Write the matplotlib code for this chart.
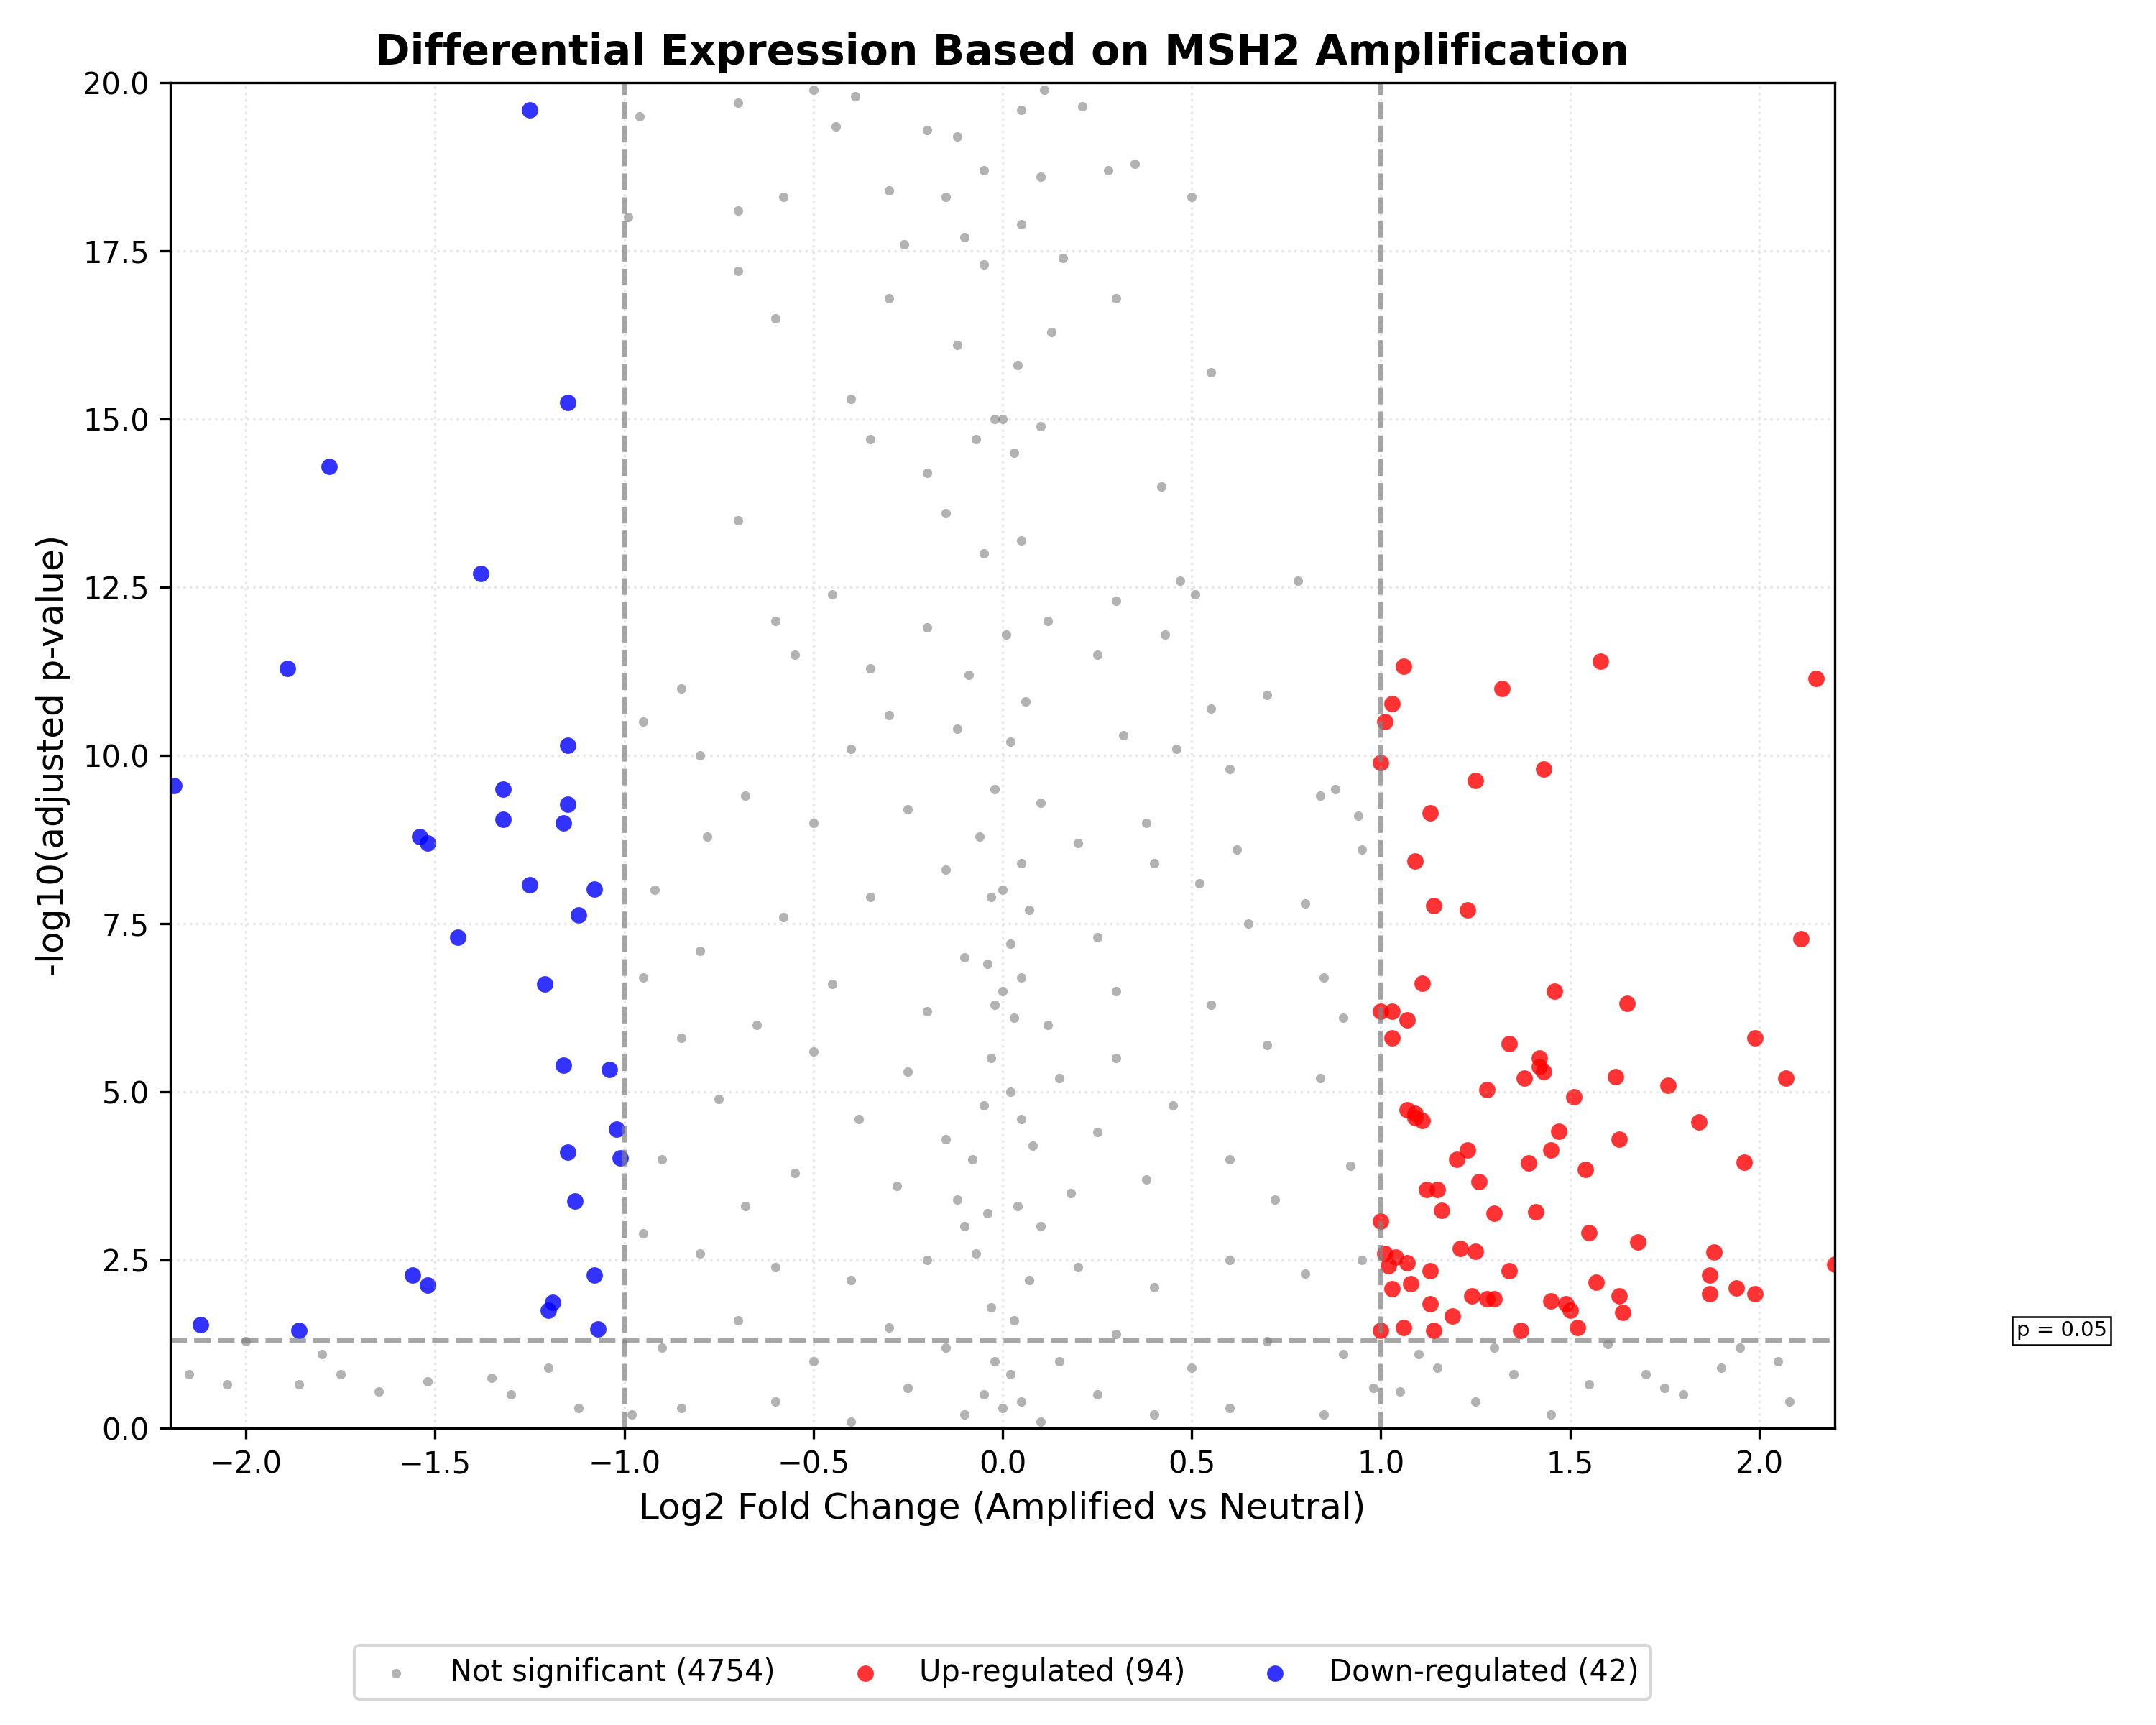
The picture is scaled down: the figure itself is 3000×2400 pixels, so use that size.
import numpy as np
import matplotlib.pyplot as plt

# values (log2FC, -log10 padj)
down_pts = [(-1.25, 19.6), (-1.15, 15.25), (-1.78, 14.3), (-1.38, 12.7), (-1.89, 11.3),
            (-2.19, 9.55), (-1.15, 10.15), (-1.32, 9.5), (-1.15, 9.28), (-1.32, 9.05),
            (-1.16, 9.0), (-1.54, 8.8), (-1.52, 8.7), (-1.25, 8.08), (-1.08, 8.02),
            (-1.12, 7.63), (-1.44, 7.3), (-1.21, 6.6), (-1.16, 5.4), (-1.04, 5.33),
            (-1.02, 4.45), (-1.15, 4.1), (-1.01, 4.02), (-1.13, 3.38), (-1.56, 2.28),
            (-1.08, 2.28), (-1.52, 2.13), (-1.19, 1.87), (-1.2, 1.75), (-2.12, 1.54),
            (-1.86, 1.46), (-1.07, 1.48)]

up_pts = [(1.06, 11.33), (1.58, 11.4), (1.32, 11.0), (2.15, 11.15), (1.03, 10.77),
          (1.01, 10.5), (1.0, 9.9), (1.43, 9.8), (1.25, 9.63), (1.13, 9.15), (1.09, 8.43),
          (1.14, 7.77), (1.23, 7.7), (2.11, 7.28), (1.11, 6.62), (1.46, 6.5), (1.65, 6.32),
          (1.0, 6.2), (1.03, 6.2), (1.07, 6.07), (1.03, 5.8), (1.99, 5.8), (1.34, 5.72),
          (1.62, 5.23), (2.07, 5.2), (1.42, 5.5), (1.42, 5.38), (1.38, 5.2), (1.43, 5.3),
          (1.76, 5.1), (1.28, 5.03), (1.51, 4.93), (1.07, 4.74), (1.09, 4.68), (1.09, 4.62),
          (1.11, 4.57), (1.84, 4.55), (1.47, 4.41), (1.63, 4.3), (1.45, 4.14), (1.23, 4.14),
          (1.2, 4.0), (1.39, 3.94), (1.96, 3.96), (1.54, 3.85), (1.26, 3.67), (1.12, 3.55),
          (1.15, 3.55), (1.16, 3.24), (1.3, 3.2), (1.41, 3.22), (1.0, 3.08), (1.55, 2.91),
          (1.68, 2.77), (1.21, 2.67), (1.25, 2.63), (1.01, 2.6), (1.88, 2.62), (1.04, 2.55),
          (1.07, 2.46), (1.02, 2.42), (2.2, 2.44), (1.13, 2.34), (1.34, 2.34), (1.87, 2.28),
          (1.57, 2.17), (1.08, 2.15), (1.94, 2.09), (1.03, 2.07), (1.99, 2.0), (1.87, 2.0),
          (1.63, 1.97), (1.24, 1.97), (1.28, 1.93), (1.3, 1.93), (1.45, 1.89), (1.49, 1.85),
          (1.13, 1.85), (1.5, 1.75), (1.64, 1.72), (1.19, 1.67), (1.52, 1.5), (1.06, 1.5),
          (1.37, 1.46), (1.14, 1.46), (1.0, 1.46)]

ns_pts = [(-0.5, 19.9), (-0.39, 19.8), (-0.12, 19.2), (-0.2, 19.3), (0.05, 19.6), (0.11, 19.9),
          (-0.7, 19.7), (-0.44, 19.35), (-0.96, 19.5), (0.21, 19.65), (0.28, 18.7), (0.35, 18.8),
          (-0.3, 18.4), (-0.58, 18.3), (0.5, 18.3), (-0.7, 18.1), (-0.05, 18.7), (0.1, 18.6),
          (-0.15, 18.3), (-0.99, 18.0), (-0.1, 17.7), (-0.26, 17.6), (0.05, 17.9), (0.16, 17.4),
          (-0.7, 17.2), (-0.05, 17.3), (0.3, 16.8), (-0.3, 16.8), (0.13, 16.3), (-0.12, 16.1),
          (-0.6, 16.5), (0.55, 15.7), (-0.4, 15.3), (0.04, 15.8), (-0.02, 15.0), (0.0, 15.0),
          (-0.07, 14.7), (0.1, 14.9), (-0.35, 14.7), (0.42, 14.0), (-0.2, 14.2), (0.03, 14.5),
          (-0.7, 13.5), (-0.15, 13.6), (0.05, 13.2), (-0.05, 13.0), (0.78, 12.6), (0.47, 12.6),
          (0.51, 12.4), (-0.45, 12.4), (0.3, 12.3), (-0.6, 12.0), (0.12, 12.0), (-0.2, 11.9),
          (0.01, 11.8), (0.43, 11.8), (-0.55, 11.5), (-0.35, 11.3), (0.25, 11.5), (-0.09, 11.2),
          (0.7, 10.9), (-0.85, 11.0), (0.06, 10.8), (-0.3, 10.6), (-0.95, 10.5), (0.55, 10.7),
          (0.32, 10.3), (-0.12, 10.4), (0.02, 10.2), (-0.4, 10.1), (0.46, 10.1),
          (0.6, 9.8), (-0.8, 10.0), (-0.68, 9.4), (0.88, 9.5), (0.84, 9.4), (-0.02, 9.5),
          (0.1, 9.3), (-0.25, 9.2), (0.38, 9.0), (-0.5, 9.0), (0.94, 9.1), (-0.78, 8.8),
          (0.2, 8.7), (0.62, 8.6), (0.95, 8.6), (-0.06, 8.8), (0.05, 8.4), (-0.15, 8.3),
          (0.52, 8.1), (-0.92, 8.0), (-0.35, 7.9), (0.4, 8.4), (0.0, 8.0), (-0.03, 7.9),
          (0.07, 7.7), (0.8, 7.8), (-0.58, 7.6), (0.65, 7.5), (-0.8, 7.1), (0.25, 7.3),
          (-0.1, 7.0), (0.02, 7.2), (-0.04, 6.9), (0.05, 6.7), (0.85, 6.7), (-0.45, 6.6),
          (0.3, 6.5), (-0.95, 6.7), (0.55, 6.3), (-0.2, 6.2), (0.12, 6.0), (0.9, 6.1),
          (-0.65, 6.0), (0.0, 6.5), (-0.02, 6.3), (0.03, 6.1),
          (-0.85, 5.8), (-0.5, 5.6), (0.7, 5.7), (0.3, 5.5), (-0.25, 5.3), (0.15, 5.2),
          (-0.03, 5.5), (0.02, 5.0), (-0.05, 4.8), (0.05, 4.6), (0.84, 5.2), (-0.75, 4.9),
          (0.45, 4.8), (-0.38, 4.6), (0.25, 4.4), (-0.15, 4.3), (0.08, 4.2), (-0.08, 4.0),
          (0.6, 4.0), (-0.9, 4.0), (0.92, 3.9), (-0.55, 3.8), (0.38, 3.7), (-0.28, 3.6),
          (0.18, 3.5), (-0.12, 3.4), (0.04, 3.3), (-0.04, 3.2), (0.72, 3.4), (-0.68, 3.3),
          (0.1, 3.0), (-0.1, 3.0),
          (-0.95, 2.9), (0.95, 2.5), (-0.8, 2.6), (0.8, 2.3), (-0.6, 2.4), (0.6, 2.5),
          (-0.4, 2.2), (0.4, 2.1), (-0.2, 2.5), (0.2, 2.4), (-0.07, 2.6), (0.07, 2.2),
          (-0.03, 1.8), (0.03, 1.6), (-0.3, 1.5), (0.3, 1.4), (-0.7, 1.6), (0.7, 1.3),
          (-0.9, 1.2), (0.9, 1.1), (-0.5, 1.0), (0.5, 0.9), (-0.15, 1.2), (0.15, 1.0),
          (-0.02, 1.0), (0.02, 0.8), (-0.05, 0.5), (0.05, 0.4), (-0.25, 0.6), (0.25, 0.5),
          (-0.6, 0.4), (0.6, 0.3), (-0.85, 0.3), (0.85, 0.2), (-0.1, 0.2), (0.1, 0.1),
          (0.0, 0.3), (-0.4, 0.1), (0.4, 0.2), (-0.98, 0.2), (0.98, 0.6),
          (-2.15, 0.8), (-2.05, 0.65), (-2.0, 1.3), (-1.8, 1.1), (-1.75, 0.8), (-1.65, 0.55),
          (-1.52, 0.7), (-1.35, 0.75), (-1.3, 0.5), (-1.2, 0.9), (-1.12, 0.3), (-1.86, 0.65),
          (1.05, 0.55), (1.15, 0.9), (1.25, 0.4), (1.35, 0.8), (1.45, 0.2), (1.55, 0.65),
          (1.7, 0.8), (1.75, 0.6), (1.8, 0.5), (1.9, 0.9), (2.05, 1.0), (2.08, 0.4),
          (1.6, 1.25), (1.3, 1.2), (1.1, 1.1), (1.95, 1.2)]

n_ns, n_up, n_down = 4754, 94, 42
fc_cut = 1.0
p_line = -np.log10(0.05)

ns = np.array(ns_pts)
up = np.array(up_pts)
down = np.array(down_pts)

fig = plt.figure(figsize=(10, 8), dpi=300)
ax = fig.add_axes([0.079, 0.172, 0.772, 0.78])

ax.scatter(ns[:, 0], ns[:, 1], s=10, c="gray", alpha=0.6, lw=0,
           label=f"Not significant ({n_ns})")
ax.scatter(up[:, 0], up[:, 1], s=30, c="red", alpha=0.8, lw=0,
           label=f"Up-regulated ({n_up})")
ax.scatter(down[:, 0], down[:, 1], s=30, c="blue", alpha=0.8, lw=0,
           label=f"Down-regulated ({n_down})")

ax.axhline(p_line, color="gray", ls="--", lw=1.5, alpha=0.7)
ax.axvline(-fc_cut, color="gray", ls="--", lw=1.5, alpha=0.7)
ax.axvline(fc_cut, color="gray", ls="--", lw=1.5, alpha=0.7)

ax.set_xlim(-2.2, 2.2)
ax.set_ylim(0, 20)
ax.grid(True, ls=":", alpha=0.3)
ax.set_xlabel("Log2 Fold Change (Amplified vs Neutral)", fontsize=12)
ax.set_ylabel("-log10(adjusted p-value)", fontsize=12)
ax.set_title("Differential Expression Based on MSH2 Amplification",
             fontsize=14, fontweight="bold")

ax.text(2.68, p_line, "p = 0.05", fontsize=7, va="bottom", ha="left",
        bbox=dict(boxstyle="square,pad=0.2", fc="white", ec="black", lw=0.6))

ax.legend(loc="upper center", bbox_to_anchor=(0.5, -0.15), ncol=3, fontsize=10)

fig.savefig("out.png", dpi=300)
